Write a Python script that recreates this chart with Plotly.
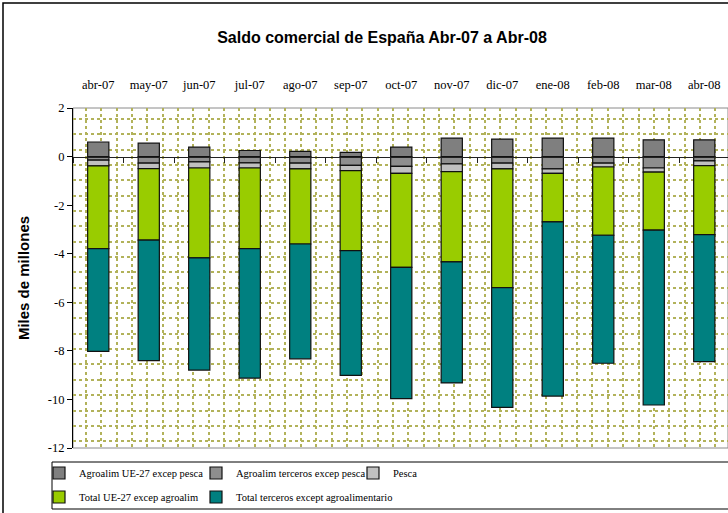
import plotly.graph_objects as go

months = ["abr-07", "may-07", "jun-07", "jul-07", "ago-07", "sep-07", "oct-07",
          "nov-07", "dic-07", "ene-08", "feb-08", "mar-08", "abr-08"]

agro_ue27 = [0.60, 0.55, 0.39, 0.25, 0.21, 0.17, 0.39, 0.76, 0.72, 0.76, 0.76, 0.69, 0.69]
agro_terceros = [-0.15, -0.27, -0.22, -0.26, -0.27, -0.36, -0.40, -0.30, -0.27, -0.51, -0.27, -0.47, -0.18]
pesca = [-0.23, -0.23, -0.25, -0.21, -0.24, -0.22, -0.29, -0.32, -0.24, -0.18, -0.16, -0.17, -0.19]
total_ue27 = [-3.41, -2.94, -3.70, -3.32, -3.09, -3.29, -3.87, -3.72, -4.89, -2.00, -2.81, -2.39, -2.84]
total_terceros = [-4.23, -4.96, -4.62, -5.33, -4.73, -5.14, -5.41, -4.98, -4.93, -7.17, -5.27, -7.20, -5.23]

y_ticks = [-12, -10, -8, -6, -4, -2, 0, 2]

series_names = ["Agroalim UE-27 excep pesca", "Agroalim terceros excep pesca", "Pesca",
                "Total UE-27 excep agroalim", "Total terceros except agroalimentario"]
series_values = [agro_ue27, agro_terceros, pesca, total_ue27, total_terceros]
series_colors = ["#7f7f7f", "#8e8e8e", "#c0c0c0", "#99cc00", "#008080"]

SERIF = "Liberation Serif"
SANS = "Liberation Sans"

W, H = 728, 513
ML, MR, MT, MB = 73, 0, 108, 65
PW, PH = W - ML - MR, H - MT - MB

def px_x(p):
    return (p - ML) / PW

def px_y(p):
    return (H - MB - p) / PH

# legend slot (pixel position of each single-entry legend box)
legend_slots = [(39, 473), (196, 473), (353, 473), (39, 497), (196, 497)]
legend_ids = ["legend", "legend2", "legend3", "legend4", "legend5"]

fig = go.Figure()
for name, vals, color, lg in zip(series_names, series_values, series_colors, legend_ids):
    fig.add_trace(go.Bar(
        x=months, y=vals, name=name, legend=lg,
        marker=dict(color=color, line=dict(color="#111111", width=1.2)),
        width=0.42,
    ))

# helper traces for the zero-crossing category axis and the background pattern
fig.add_trace(go.Scatter(x=months, y=[None] * len(months), xaxis="x2", yaxis="y",
                         showlegend=False, hoverinfo="skip", mode="markers"))
fig.add_trace(go.Scatter(x=[None], y=[None], xaxis="x3", yaxis="y3",
                         showlegend=False, hoverinfo="skip", mode="markers"))

zero_pos = (0 - (-12)) / 14.0
grid_col = "#b2b25a"

legend_layout = {}
for lg, (lx, ly) in zip(legend_ids, legend_slots):
    legend_layout[lg] = dict(x=px_x(lx), y=px_y(ly), xanchor="left", yanchor="middle",
                             orientation="v", itemwidth=30,
                             font=dict(family=SERIF, size=10.5, color="black"),
                             bgcolor="rgba(0,0,0,0)", borderwidth=0)

fig.update_layout(
    width=W, height=H,
    margin=dict(l=ML, r=MR, t=MT, b=MB),
    paper_bgcolor="white", plot_bgcolor="white",
    barmode="relative",
    title=dict(text="<b>Saldo comercial de España Abr-07 a Abr-08</b>",
               font=dict(family=SANS, size=16, color="black"),
               x=382 / W, xref="container", xanchor="center",
               y=1 - 37 / H, yref="container", yanchor="middle"),
    xaxis=dict(type="category", side="top", anchor="y", range=[-0.5, 12.47],
               showline=False, showgrid=False, zeroline=False,
               ticks="outside", ticklen=13, tickcolor="rgba(0,0,0,0)",
               tickfont=dict(family=SERIF, size=12.5, color="black")),
    xaxis2=dict(type="category", overlaying="x", anchor="free", position=zero_pos,
                range=[-0.5, 12.47], showticklabels=False, showgrid=False,
                zeroline=False, showline=True, linecolor="#222222", linewidth=1,
                ticks="outside", ticklen=5, tickcolor="#222222", tickson="boundaries"),
    xaxis3=dict(overlaying="x", anchor="y3", range=[0, PW], showticklabels=False,
                showline=False, zeroline=False, ticks="", tick0=12.9, dtick=15.35,
                showgrid=True, gridcolor=grid_col, gridwidth=1.6, griddash="dot"),
    yaxis=dict(range=[-12, 2], tickvals=y_ticks, ticktext=[str(v) for v in y_ticks],
               showline=True, linecolor="black", linewidth=1,
               ticks="outside", ticklen=5, tickcolor="black",
               showgrid=False, zeroline=False,
               tickfont=dict(family=SERIF, size=12.5, color="black"),
               title=dict(text="<b>Miles de millones</b>",
                          font=dict(family=SANS, size=15, color="black"), standoff=14)),
    yaxis3=dict(overlaying="y", anchor="x3", range=[PH, 0], showticklabels=False,
                showline=False, zeroline=False, ticks="", tick0=10.85, dtick=15.35,
                showgrid=True, gridcolor=grid_col, gridwidth=1.6, griddash="dot"),
    showlegend=True,
    shapes=[
        dict(type="rect", xref="paper", yref="paper", x0=0, x1=1, y0=0, y1=1,
             line=dict(color="#8a8a8a", width=1), layer="below"),
        dict(type="rect", xref="paper", yref="paper",
             x0=px_x(52), x1=px_x(740), y0=px_y(509), y1=px_y(462),
             line=dict(color="black", width=1)),
        dict(type="rect", xref="paper", yref="paper",
             x0=px_x(3), x1=px_x(745), y0=px_y(530), y1=px_y(3),
             line=dict(color="black", width=1.5)),
    ],
    **legend_layout,
)

fig.write_html("out.html", config={"displayModeBar": False},
               post_script="document.body.style.margin='0px';document.body.style.overflow='hidden';")
